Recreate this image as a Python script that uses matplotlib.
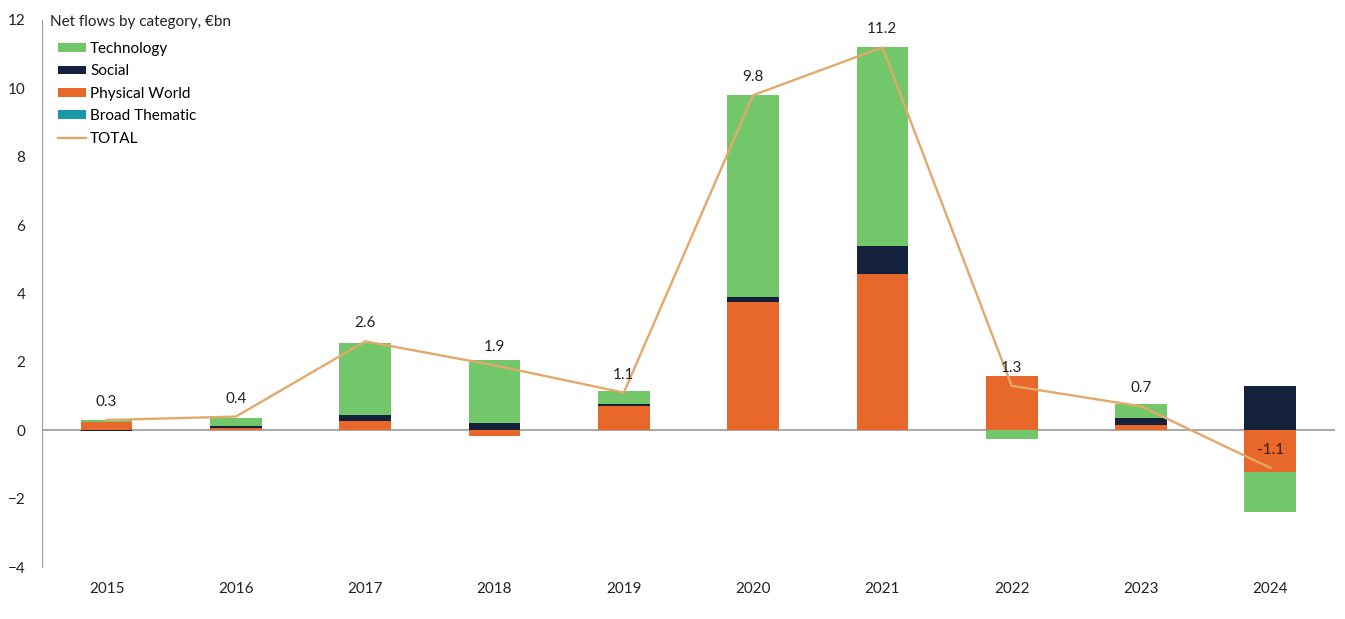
import matplotlib
matplotlib.use("Agg")
import matplotlib.pyplot as plt
import numpy as np
from matplotlib.patches import Patch
from matplotlib.lines import Line2D

years = ["2015", "2016", "2017", "2018", "2019", "2020", "2021", "2022", "2023", "2024"]
broad_thematic = [0.0, 0.0, 0.0, 0.0, 0.0, 0.0, 0.0, 0.0, 0.0, 0.0]
physical_world = [0.24, 0.08, 0.28, -0.18, 0.72, 3.75, 4.56, 1.60, 0.14, -1.22]
social = [-0.02, 0.03, 0.18, 0.20, 0.05, 0.15, 0.82, 0.0, 0.22, 1.28]
technology = [0.05, 0.24, 2.10, 1.85, 0.37, 5.90, 5.82, -0.27, 0.41, -1.17]
total = [0.3, 0.4, 2.6, 1.9, 1.1, 9.8, 11.2, 1.3, 0.7, -1.1]
total_labels = ["0.3", "0.4", "2.6", "1.9", "1.1", "9.8", "11.2", "1.3", "0.7", "-1.1"]

series = [
    ("Broad Thematic", broad_thematic, "#1899AA"),
    ("Physical World", physical_world, "#E8672A"),
    ("Social", social, "#14213D"),
    ("Technology", technology, "#72C76B"),
]
line_color = "#E2A96A"

plt.rcParams["font.family"] = ["Lato", "DejaVu Sans"]

fig = plt.figure(figsize=(13.45, 6.19), dpi=100)
ax = fig.add_axes([0.0312, 0.084, 0.9613, 0.8837])

x = np.arange(len(years))
width = 0.4
pos_base = np.zeros(len(years))
neg_base = np.zeros(len(years))
for name, vals, color in series:
    v = np.array(vals)
    pos = np.where(v > 0, v, 0)
    neg = np.where(v < 0, v, 0)
    ax.bar(x, pos, width, bottom=pos_base, color=color, zorder=2)
    ax.bar(x, neg, width, bottom=neg_base, color=color, zorder=2)
    pos_base += pos
    neg_base += neg

ax.plot(x, total, color=line_color, lw=1.7, zorder=3)

for xi, t, lab in zip(x, total, total_labels):
    col = "#3a1a12" if t < 0 else "#222222"
    ax.annotate(lab, (xi, t), xytext=(0, 13), textcoords="offset points",
                ha="center", va="center", fontsize=11, color=col, zorder=4)

ax.set_xlim(-0.5, 9.5)
ax.set_ylim(-4, 12)
ax.set_yticks(np.arange(-4, 13, 2))
ax.set_xticks(x)
ax.set_xticklabels(years)
ax.tick_params(axis="both", length=0, labelsize=11, colors="#222222")
ax.tick_params(axis="x", pad=11)
ax.tick_params(axis="y", pad=12)
for s in ["top", "right", "bottom"]:
    ax.spines[s].set_visible(False)
ax.spines["left"].set_color("#999999")
ax.axhline(0, color="#999999", lw=1.2, zorder=1)

ax.text(50 / 1345, 1 - 22 / 619, "Net flows by category, €bn", transform=fig.transFigure,
        ha="left", va="center", fontsize=11, color="#222222")

handles = [
    Patch(facecolor="#72C76B", label="Technology"),
    Patch(facecolor="#14213D", label="Social"),
    Patch(facecolor="#E8672A", label="Physical World"),
    Patch(facecolor="#1899AA", label="Broad Thematic"),
    Line2D([0], [0], color=line_color, lw=1.7, label="TOTAL"),
]
leg = fig.legend(handles=handles, loc="upper left",
                 bbox_to_anchor=(58 / 1345, 1 - 42 / 619),
                 frameon=False, fontsize=11, handlelength=1.8, handleheight=0.5,
                 handletextpad=0.3, labelspacing=0.55, borderaxespad=0.0,
                 borderpad=0.0)

fig.savefig("out.png", dpi=100)
